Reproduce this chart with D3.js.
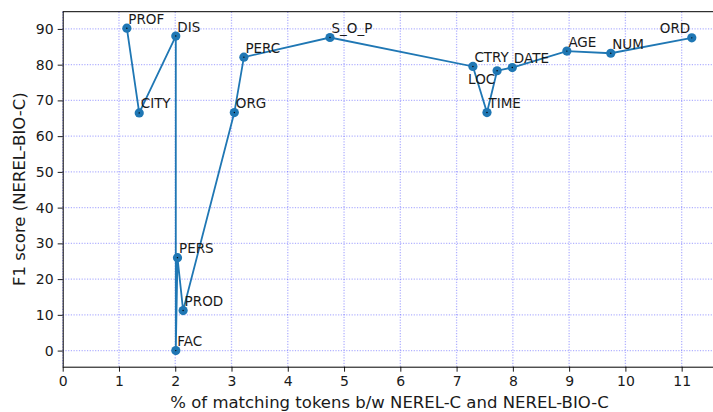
<!DOCTYPE html>
<html>
<head>
<meta charset="utf-8">
<script src="https://cdn.jsdelivr.net/npm/d3@7"></script>
<style>
  body { margin: 0; background: #fff; }
  text { font-family: "DejaVu Sans", sans-serif; fill: #1a1a1a; }
</style>
</head>
<body>
<div id="chart"></div>
<script>
// Data
const labels = ['PROF', 'CITY', 'DIS', 'FAC', 'PERS', 'PROD', 'ORG', 'PERC', 'S_O_P',
    'CTRY', 'TIME', 'LOC', 'DATE', 'AGE', 'NUM', 'ORD'];
const matchPct = [1.14, 1.36, 2.01, 2.01, 2.04, 2.14, 3.05, 3.22, 4.75,
    7.29, 7.54, 7.72, 7.99, 8.96, 9.74, 11.18];
const f1Scores = [90.2, 66.5, 88.0, 0.0, 26.0, 11.2, 66.6, 82.1, 87.6,
    79.5, 66.6, 78.3, 79.2, 83.8, 83.2, 87.5];
const xTicks = [0, 1, 2, 3, 4, 5, 6, 7, 8, 9, 10, 11];
const yTicks = [0, 10, 20, 30, 40, 50, 60, 70, 80, 90];

// Labels that were nudged by hand in the original
const labelNudge = { LOC: [-29, 13], ORD: [-32, -5] };

const config = {
    width: 713,
    height: 412,
    left: 62.7,
    top: 11.7,
    bottom: 366.7,
    lineColor: '#1f77b4'
};

const svg = d3.select('#chart')
    .append('svg')
    .attr('width', config.width)
    .attr('height', config.height);

const x = d3.scaleLinear().domain([0, 11.68]).range([config.left, config.left + 11.68 * 56.27]);
const y = d3.scaleLinear().domain([-4.51, 94.82]).range([config.bottom, config.top]);

const points = labels.map((name, i) => ({ name, x: matchPct[i], y: f1Scores[i] }));

// Grid
const grid = svg.append('g')
    .attr('stroke', 'rgba(0,0,255,0.3)')
    .attr('stroke-width', 1.3)
    .attr('stroke-dasharray', '1.2,1.5');
grid.selectAll('.vgrid')
    .data(xTicks)
    .join('line')
    .attr('x1', d => x(d)).attr('x2', d => x(d))
    .attr('y1', config.top).attr('y2', config.bottom);
grid.selectAll('.hgrid')
    .data(yTicks)
    .join('line')
    .attr('x1', config.left).attr('x2', config.width)
    .attr('y1', d => y(d)).attr('y2', d => y(d));

// Axes
const xAxis = svg.append('g')
    .attr('transform', `translate(0,${config.bottom})`)
    .call(d3.axisBottom(x).tickValues(xTicks).tickSize(5).tickPadding(4).tickFormat(d3.format('d')));
const yAxis = svg.append('g')
    .attr('transform', `translate(${config.left},0)`)
    .call(d3.axisLeft(y).tickValues(yTicks).tickSize(5).tickPadding(4).tickFormat(d3.format('d')));

[xAxis, yAxis].forEach(a => {
    a.selectAll('text').style('font-size', '14px').attr('fill', '#1a1a1a');
    a.selectAll('line').attr('stroke', '#000').attr('stroke-width', 0.9);
    a.select('.domain').attr('stroke', '#000').attr('stroke-width', 1);
});
xAxis.select('.domain').attr('d', `M${config.left},0.5H${config.width}`);
yAxis.select('.domain').attr('d', `M0.5,${config.bottom}V${config.top}`);

// Top spine
svg.append('line')
    .attr('x1', config.left).attr('x2', config.width)
    .attr('y1', config.top).attr('y2', config.top)
    .attr('stroke', '#000').attr('stroke-width', 1);

// Line + markers
const line = d3.line().x(d => x(d.x)).y(d => y(d.y));
svg.append('path')
    .datum(points)
    .attr('d', line)
    .attr('fill', 'none')
    .attr('stroke', config.lineColor)
    .attr('stroke-width', 1.8);

svg.selectAll('.marker')
    .data(points)
    .join('circle')
    .attr('class', 'marker')
    .attr('cx', d => x(d.x))
    .attr('cy', d => y(d.y))
    .attr('r', 4.6)
    .attr('fill', config.lineColor);

svg.selectAll('.dot')
    .data(points)
    .join('circle')
    .attr('cx', d => x(d.x))
    .attr('cy', d => y(d.y))
    .attr('r', 0.7)
    .attr('fill', '#000');

// Point labels
svg.selectAll('.pt-label')
    .data(points)
    .join('text')
    .attr('class', 'pt-label')
    .attr('x', d => x(d.x) + (labelNudge[d.name] ? labelNudge[d.name][0] : 1.5))
    .attr('y', d => y(d.y) + (labelNudge[d.name] ? labelNudge[d.name][1] : -4.5))
    .style('font-size', '13.5px')
    .text(d => d.name);

// Axis titles
svg.append('text')
    .attr('x', 389.5)
    .attr('y', 408)
    .attr('text-anchor', 'middle')
    .style('font-size', '16.5px')
    .text('% of matching tokens b/w NEREL-C and NEREL-BIO-C');

svg.append('text')
    .attr('transform', `translate(25,${(config.top + config.bottom) / 2}) rotate(-90)`)
    .attr('text-anchor', 'middle')
    .style('font-size', '16.5px')
    .text('F1 score (NEREL-BIO-C)');
</script>
</body>
</html>
